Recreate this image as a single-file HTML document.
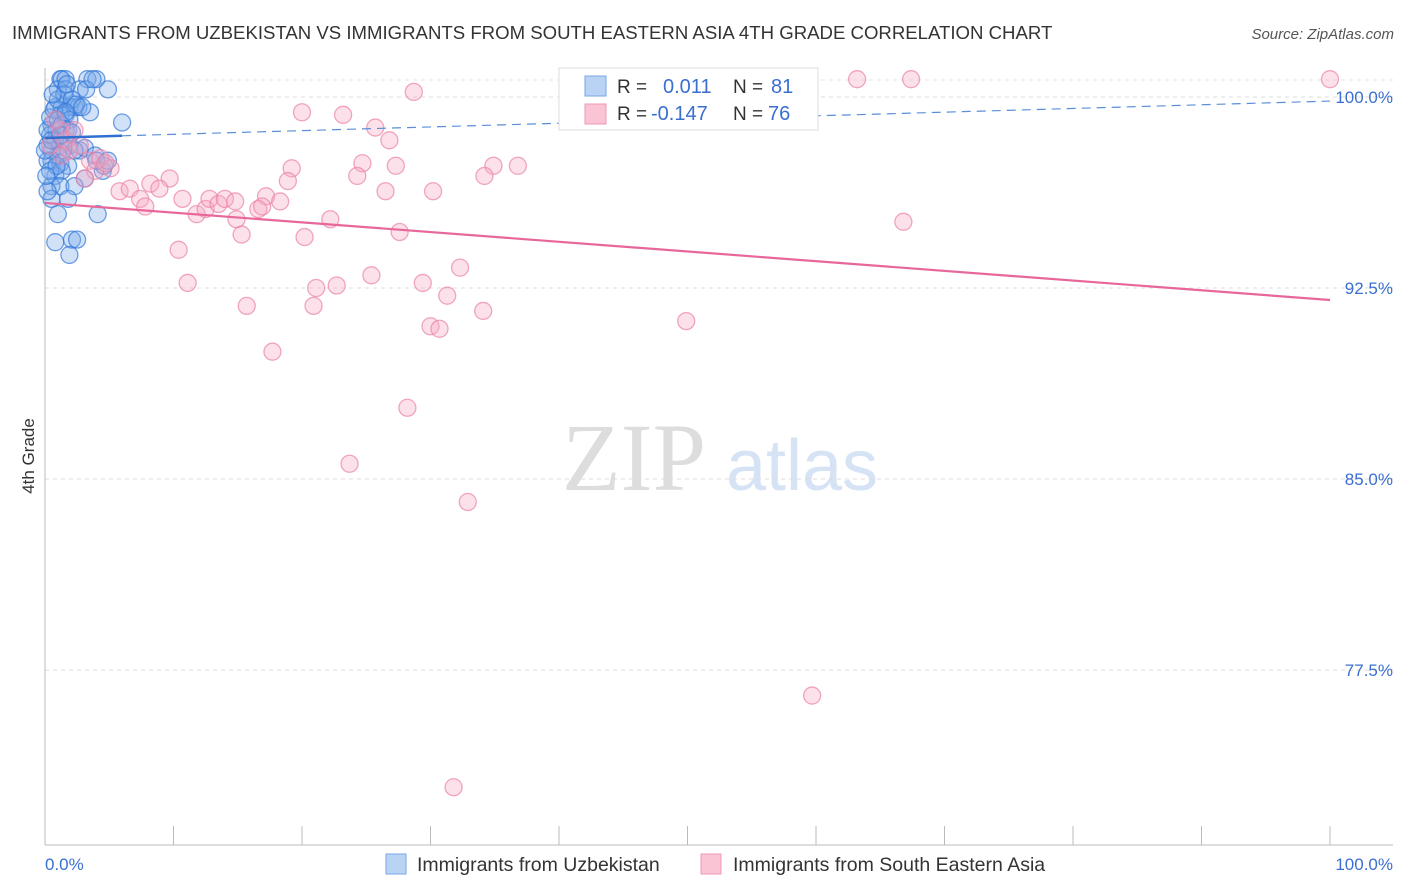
<!DOCTYPE html>
<html><head><meta charset="utf-8"><style>
body{margin:0;background:#fff;font-family:"Liberation Sans",sans-serif;}
svg{display:block}
</style></head><body>
<svg id="chart" width="1406" height="892">
<text x="12" y="39" font-size="18.6" fill="#333">IMMIGRANTS FROM UZBEKISTAN VS IMMIGRANTS FROM SOUTH EASTERN ASIA 4TH GRADE CORRELATION CHART</text>
<text x="1394" y="39" font-size="15" fill="#555" font-style="italic" text-anchor="end">Source: ZipAtlas.com</text>
<g>
<text x="634" y="490" font-size="96" fill="#ddd" font-family="Liberation Serif,serif" text-anchor="middle">ZIP</text>
<text x="802" y="490" font-size="72" fill="#d5e3f5" text-anchor="middle">atlas</text>
</g>
<g id="grid"></g><g id="axes"></g>
<g id="pts"></g><g id="trend"></g>
<text x="34" y="456" font-size="17" fill="#333" text-anchor="middle" transform="rotate(-90 34 456)">4th Grade</text>
<text x="45" y="870" font-size="17" fill="#3a6fd0">0.0%</text>
<text x="1393" y="870" font-size="17" fill="#3a6fd0" text-anchor="end">100.0%</text>
<g>
<rect x="559" y="68" width="259" height="62" fill="#fff" stroke="#ddd"/>
<rect x="585" y="76" width="21" height="20" fill="#b9d3f5" stroke="#7aa6e6"/>
<rect x="585" y="104" width="21" height="20" fill="#fac4d4" stroke="#ee9ab5"/>
<text x="617" y="93" font-size="19" fill="#333">R =</text>
<text x="663" y="93" font-size="20" fill="#3a6fd0">0.011</text>
<text x="733" y="93" font-size="19" fill="#333">N =</text>
<text x="771" y="93" font-size="20" fill="#3a6fd0">81</text>
<text x="617" y="120" font-size="19" fill="#333">R =</text>
<text x="651" y="120" font-size="20" fill="#3a6fd0">-0.147</text>
<text x="733" y="120" font-size="19" fill="#333">N =</text>
<text x="768" y="120" font-size="20" fill="#3a6fd0">76</text>
</g>
<g>
<rect x="386" y="854" width="20" height="20" fill="#b9d3f5" stroke="#7aa6e6"/>
<text x="417" y="871" font-size="19.5" fill="#333">Immigrants from Uzbekistan</text>
<rect x="701" y="854" width="20" height="20" fill="#fac4d4" stroke="#ee9ab5"/>
<text x="733" y="871" font-size="19.5" fill="#333">Immigrants from South Eastern Asia</text>
</g>
</svg>
<script>
const yTicks=[100,92.5,85,77.5];
const yTickLabels=["100.0%","92.5%","85.0%","77.5%"];
const xTicks=[0,10,20,30,40,50,60,70,80,90,100];
const blueX=[1.2,1.3,1.6,3.3,4.0,1.0,1.6,2.7,4.9,0.8,1.3,1.9,2.3,2.6,3.5,1.2,1.6,1.9,6.0,0.5,0.9,1.6,0.4,0.8,1.2,1.9,0.5,1.0,1.3,2.7,3.1,3.9,0.5,1.2,1.8,4.5,0.8,1.3,3.1,0.5,1.2,2.3,0.5,1.8,1.0,4.1,0.8,2.1,2.5,1.9,0.2,0.2,0.4,0.7,1.0,1.5,2.1,2.4,2.9,0.2,0.4,0.9,1.5,1.8,2.3,3.2,3.7,0.6,1.7,4.6,4.0,4.9,0.2,0,0.5,1.0,1.3,1.6,0.1,1.2,2.1];
const blueY=[100.7,100.7,100.7,100.7,100.7,100.3,100.3,100.3,100.3,99.6,99.6,99.6,99.6,99.6,99.4,99.3,99.3,99.1,99.0,98.9,98.7,98.7,98.5,98.3,98.1,98.1,97.9,97.7,97.8,97.9,98.0,97.7,97.5,97.4,97.3,97.1,96.9,97.1,96.8,96.5,96.5,96.5,96.0,96.0,95.4,95.4,94.3,94.4,94.4,93.8,98.1,98.7,99.2,99.5,99.9,100.1,99.9,99.7,99.6,97.5,97.1,97.3,98.3,98.7,97.9,100.3,100.7,100.1,100.5,97.3,97.5,97.5,96.3,97.9,98.3,99.1,98.9,99.4,96.9,98.5,98.6];
const pinkX=[100,63.2,67.4,28.7,20.0,23.2,25.7,26.8,24.7,27.3,19.2,34.9,36.8,34.2,24.3,26.5,30.2,18.9,17.2,18.3,9.7,8.2,8.9,5.8,6.6,7.4,7.8,10.7,11.8,12.5,12.8,13.5,14.0,14.8,14.9,16.6,16.9,22.2,15.3,20.2,27.6,66.8,10.4,32.3,25.4,11.1,21.1,22.7,29.4,31.3,20.9,15.7,34.1,30.0,30.7,49.9,17.7,28.2,23.7,32.9,59.7,31.8,1.2,1.6,1.9,2.7,3.5,4.3,5.1,3.9,3.1,0.8,2.3,4.7,1.3,0.4];
const pinkY=[100.7,100.7,100.7,100.2,99.4,99.3,98.8,98.3,97.4,97.3,97.2,97.3,97.3,96.9,96.9,96.3,96.3,96.7,96.1,95.9,96.8,96.6,96.4,96.3,96.4,96.0,95.7,96.0,95.4,95.6,96.0,95.8,96.0,95.9,95.2,95.6,95.7,95.2,94.6,94.5,94.7,95.1,94.0,93.3,93.0,92.7,92.5,92.6,92.7,92.2,91.8,91.8,91.6,91.0,90.9,91.2,90.0,87.8,85.6,84.1,76.5,72.9,98.7,98.3,97.9,98.1,97.5,97.6,97.2,97.1,96.8,99.1,98.7,97.4,97.7,98.1];
const blueTrend=[98.39,99.84];
const pinkTrend=[95.84,92.03];
const NS="http://www.w3.org/2000/svg";
const X=p=>45+p*12.85, Y=v=>97+(100-v)*25.47;
function mk(t,a,parent){const e=document.createElementNS(NS,t);for(const k in a)e.setAttribute(k,a[k]);document.getElementById(parent).appendChild(e);return e;}
yTicks.forEach((v,i)=>{
 const l=mk('line',{x1:45,x2:1393,y1:Y(v),y2:Y(v),stroke:'#ddd','stroke-dasharray':'4,4'},'grid');
 
 
 const t=mk('text',{x:1393,y:Y(v)+6,'font-size':17,fill:'#3a6fd0','text-anchor':'end'},'grid');
 t.textContent=yTickLabels[i];
 
 
});
const topLine=mk('line',{x1:45,x2:1393,y1:80,y2:80,stroke:'#e4e4e4','stroke-dasharray':'4,4'},'grid');


const ax=mk('line',{x1:45,x2:1393,y1:845,y2:845,stroke:'#bbb'},'axes');


const ay=mk('line',{x1:45,x2:45,y1:68,y2:845,stroke:'#bbb'},'axes');


xTicks.forEach(p=>{const t=mk('line',{x1:X(p),x2:X(p),y1:826,y2:845,stroke:'#bbb'},'axes');
 
 });
blueX.forEach((x,i)=>{const c=mk('circle',{cx:X(x),cy:Y(blueY[i]),r:8.5,fill:'rgba(120,170,235,0.35)',stroke:'rgba(50,120,215,0.7)','stroke-width':1.3},'pts');
 
 });
pinkX.forEach((x,i)=>{const c=mk('circle',{cx:X(x),cy:Y(pinkY[i]),r:8.5,fill:'rgba(245,170,195,0.35)',stroke:'rgba(235,130,165,0.7)','stroke-width':1.3},'pts');
 
 });
const bslope=(blueTrend[1]-blueTrend[0])/100;
const b1=mk('line',{x1:X(0),y1:Y(blueTrend[0]),x2:X(6),y2:Y(blueTrend[0]+bslope*6),stroke:'#2f6fd0','stroke-width':2.5},'trend');


const b2=mk('line',{x1:X(6),y1:Y(blueTrend[0]+bslope*6),x2:X(100),y2:Y(blueTrend[1]),stroke:'#5a8fd8','stroke-width':1.2,'stroke-dasharray':'9,6'},'trend');


const p1=mk('line',{x1:X(0),y1:Y(pinkTrend[0]),x2:X(100),y2:Y(pinkTrend[1]),stroke:'#e8679a','stroke-width':2.2},'trend');


</script>
</body></html>
